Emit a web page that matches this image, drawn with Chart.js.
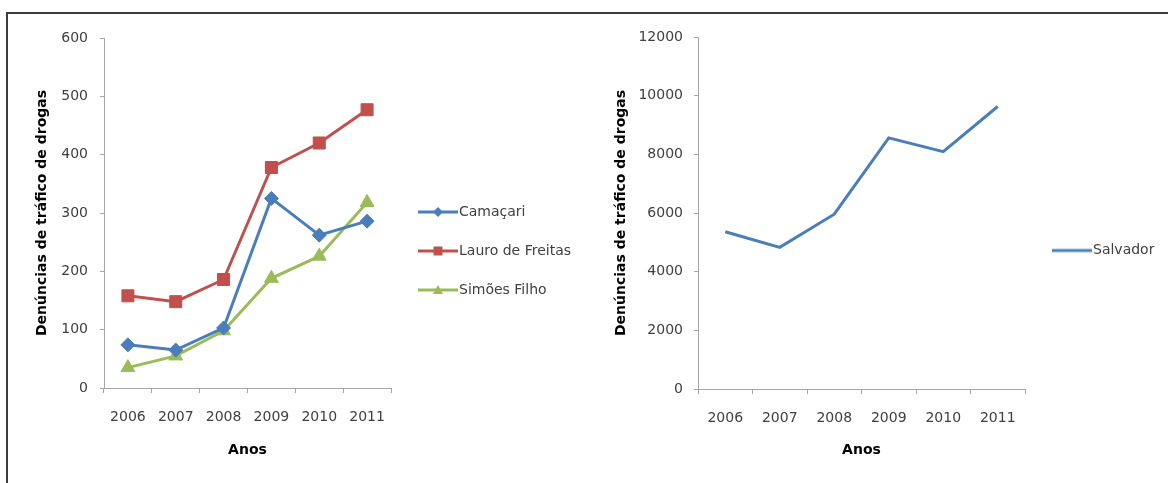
<!DOCTYPE html>
<html>
<head>
<meta charset="utf-8">
<script src="https://cdn.jsdelivr.net/npm/chart.js@4.4.0/dist/chart.umd.min.js"></script>
<style>
  html, body { margin: 0; padding: 0; background: #fff; }
  body { width: 1168px; height: 483px; position: relative; overflow: hidden; }
  .frame {
    position: absolute; left: 6px; top: 12px; width: 1200px; height: 500px;
    border-top: 2px solid #3c3c3c; border-left: 2px solid #3c3c3c;
  }
  .box { position: absolute; top: 0; height: 483px; }
  #left-box { left: 0; width: 585px; }
  #right-box { left: 580px; width: 588px; }
</style>
</head>
<body>
<div class="frame"></div>
<div class="box" id="left-box"><canvas id="chart-left"></canvas></div>
<div class="box" id="right-box"><canvas id="chart-right"></canvas></div>
<script>
// Data
const years = ["2006", "2007", "2008", "2009", "2010", "2011"];
const camacari = [74, 65, 103, 325, 262, 286];
const lauroDeFreitas = [158, 148, 186, 378, 420, 477];
const simoesFilho = [35, 55, 98, 188, 226, 318];
const salvador = [5360, 4830, 5960, 8560, 8090, 9630];

const leftTicks = { min: 0, max: 600, step: 100 };
const rightTicks = { min: 0, max: 12000, step: 2000 };

// Styles
const FONT = "'DejaVu Sans', sans-serif";
const tickColor = "#404040";
const axisColor = "#a6a6a6";
const blue = "#4a7ebb";
const red = "#c0504d";
const green = "#9bbb59";
const yTitle = "Denúncias de tráfico de drogas";

const LEGEND_PAD = 25;
const ICON_STYLE_W = 36;

Chart.defaults.font.family = FONT;
Chart.defaults.animation = false;

function textWidth(str) {
  const g = document.createElement("canvas").getContext("2d");
  g.font = "14px " + FONT;
  return g.measureText(str).width;
}

// legend icon: line with a small marker, like the spreadsheet legend
function legendIcon(color, marker) {
  const c = document.createElement("canvas");
  c.width = 48;
  c.height = 16;
  const g = c.getContext("2d");
  g.strokeStyle = color;
  g.fillStyle = color;
  g.lineWidth = 3;
  g.beginPath();
  g.moveTo(8, 8);
  g.lineTo(48, 8);
  g.stroke();
  const cx = 28, cy = 8;
  g.beginPath();
  if (marker === "diamond") {
    g.moveTo(cx, cy - 5); g.lineTo(cx + 5, cy); g.lineTo(cx, cy + 5); g.lineTo(cx - 5, cy);
  } else if (marker === "square") {
    g.rect(cx - 4.5, cy - 4.5, 9, 9);
  } else if (marker === "triangle") {
    g.moveTo(cx, cy - 5); g.lineTo(cx + 5, cy + 4); g.lineTo(cx - 5, cy + 4);
  }
  g.closePath();
  if (marker) g.fill();
  return c;
}

function lineDataset(label, data, color, style, radius) {
  return {
    label: label,
    data: data,
    borderColor: color,
    backgroundColor: color,
    borderWidth: 3,
    pointStyle: style,
    pointRadius: radius,
    pointBorderWidth: 1,
    pointBorderColor: color,
    pointBackgroundColor: color,
    tension: 0,
  };
}

function buildChart(canvasId, datasets, icons, ticksCfg, opts) {
  const longest = Math.max(...datasets.map((d) => textWidth(d.label)));
  const legendWidth = LEGEND_PAD + ICON_STYLE_W + 7 + longest + 10;
  const padRight = opts.canvasWidth - opts.plotRight - legendWidth;

  return new Chart(document.getElementById(canvasId).getContext("2d"), {
    type: "line",
    data: { labels: years, datasets: datasets },
    options: {
      responsive: true,
      maintainAspectRatio: false,
      layout: {
        padding: { top: opts.plotTop, right: padRight, bottom: 19, left: 0 },
      },
      plugins: {
        tooltip: { enabled: false },
        legend: {
          display: true,
          position: "right",
          align: "center",
          maxWidth: 400,
          labels: {
            usePointStyle: true,
            pointStyleWidth: ICON_STYLE_W,
            padding: LEGEND_PAD,
            color: tickColor,
            font: { size: 14, family: FONT },
            generateLabels: function (chart) {
              const items = Chart.defaults.plugins.legend.labels.generateLabels(chart);
              items.forEach((item, i) => {
                item.pointStyle = icons[i];
              });
              return items;
            },
          },
        },
      },
      scales: {
        x: {
          offset: true,
          grid: {
            offset: true,
            drawOnChartArea: false,
            drawTicks: true,
            tickLength: 5,
            color: axisColor,
          },
          border: { color: axisColor, width: 1 },
          ticks: {
            color: tickColor,
            font: { size: 14 },
            padding: 16,
            maxRotation: 0,
            autoSkip: false,
          },
          title: {
            display: true,
            text: "Anos",
            color: "#000",
            font: { size: 14, weight: "bold" },
            padding: { top: 0, bottom: 5.6 },
          },
          afterFit: (scale) => {
            scale.height = opts.xHeight;
          },
        },
        y: {
          min: ticksCfg.min,
          max: ticksCfg.max,
          grid: {
            drawOnChartArea: false,
            drawTicks: true,
            tickLength: 4,
            color: axisColor,
          },
          border: { color: axisColor, width: 1 },
          ticks: {
            stepSize: ticksCfg.step,
            color: tickColor,
            font: { size: 14 },
            padding: opts.yTickPad,
            callback: (value) => String(value),
          },
          title: {
            display: true,
            text: yTitle,
            color: "#000",
            font: { size: 14, weight: "bold" },
            padding: { top: opts.yTitlePad, bottom: 0 },
          },
          afterFit: (scale) => {
            scale.width = opts.yWidth;
          },
        },
      },
    },
  });
}

// Left chart: three municipalities
buildChart(
  "chart-left",
  [
    lineDataset("Camaçari", camacari, blue, "rectRot", 7),
    lineDataset("Lauro de Freitas", lauroDeFreitas, red, "rect", 8.5),
    lineDataset("Simões Filho", simoesFilho, green, "triangle", 8),
  ],
  [legendIcon(blue, "diamond"), legendIcon(red, "square"), legendIcon(green, "triangle")],
  leftTicks,
  { canvasWidth: 585, plotRight: 391, plotTop: 38, xHeight: 76, yWidth: 104, yTitlePad: 34, yTickPad: 12 }
);

// Right chart: Salvador
buildChart(
  "chart-right",
  [
    {
      label: "Salvador",
      data: salvador,
      borderColor: blue,
      backgroundColor: blue,
      borderWidth: 3,
      pointRadius: 0,
      tension: 0,
    },
  ],
  [legendIcon(blue, null)],
  rightTicks,
  { canvasWidth: 588, plotRight: 445, plotTop: 37, xHeight: 75, yWidth: 118, yTitlePad: 33, yTickPad: 11 }
);
</script>
</body>
</html>
